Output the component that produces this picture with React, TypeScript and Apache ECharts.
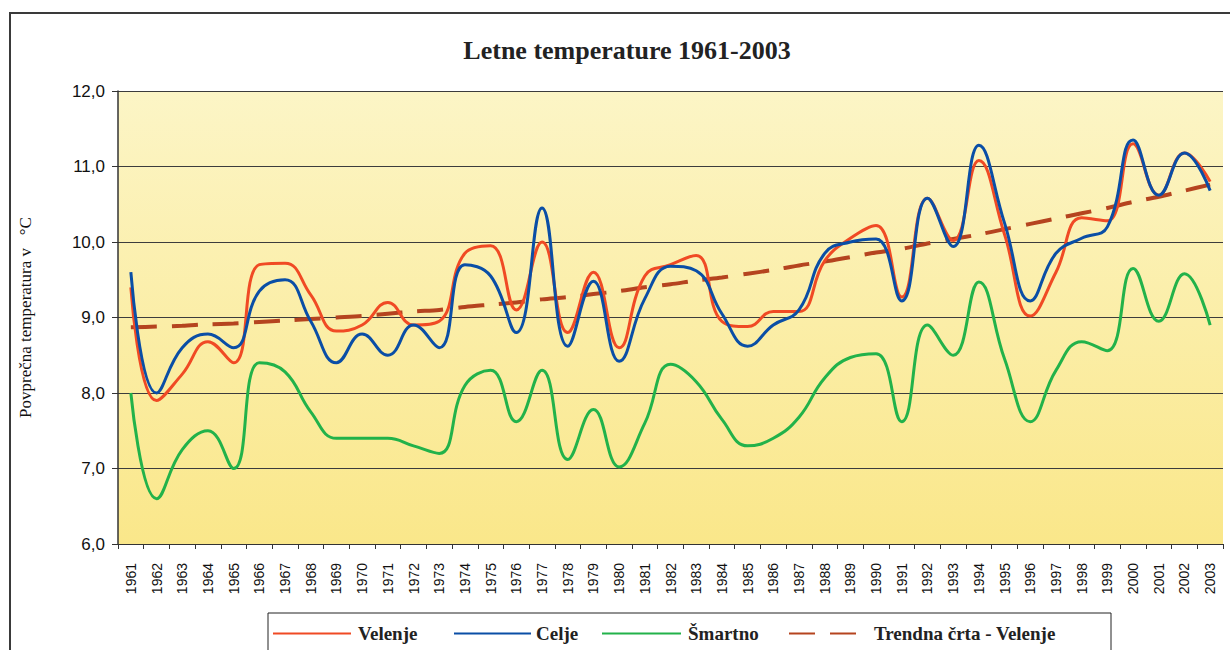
import React, { useEffect, useRef } from "react";
import * as echarts from "echarts";

const years: string[] = [
  "1961","1962","1963","1964","1965","1966","1967","1968","1969","1970",
  "1971","1972","1973","1974","1975","1976","1977","1978","1979","1980",
  "1981","1982","1983","1984","1985","1986","1987","1988","1989","1990",
  "1991","1992","1993","1994","1995","1996","1997","1998","1999","2000",
  "2001","2002","2003",
];

const velenje: number[] = [
  9.40, 7.90, 8.25, 8.68, 8.40, 9.70, 9.72, 9.30, 8.82, 8.90,
  9.20, 8.90, 8.95, 9.85, 9.95, 9.10, 10.00, 8.80, 9.60, 8.60,
  9.55, 9.70, 9.82, 8.95, 8.88, 9.08, 9.08, 9.75, 10.05, 10.22,
  9.27, 10.58, 10.02, 11.08, 10.10, 9.02, 9.60, 10.32, 10.28, 11.30,
  10.62, 11.18, 10.80,
];

const celje: number[] = [
  9.60, 8.00, 8.60, 8.78, 8.60, 9.35, 9.50, 8.95, 8.40, 8.78,
  8.50, 8.90, 8.60, 9.70, 9.55, 8.80, 10.45, 8.62, 9.48, 8.42,
  9.25, 9.68, 9.62, 9.05, 8.62, 8.90, 9.10, 9.85, 10.00, 10.04,
  9.22, 10.58, 9.94, 11.28, 10.25, 9.22, 9.85, 10.05, 10.20, 11.35,
  10.62, 11.18, 10.68,
];

const smartno: number[] = [
  8.00, 6.60, 7.25, 7.50, 7.00, 8.40, 8.28, 7.75, 7.40, 7.40,
  7.40, 7.30, 7.20, 8.10, 8.30, 7.62, 8.30, 7.12, 7.78, 7.02,
  7.60, 8.38, 8.15, 7.65, 7.30, 7.40, 7.68, 8.20, 8.47, 8.52,
  7.62, 8.90, 8.50, 9.47, 8.45, 7.62, 8.30, 8.68, 8.56, 9.65,
  8.95, 9.58, 8.90,
];

const trendVelenje: number[] = [
  8.87, 8.88, 8.89, 8.91, 8.92, 8.94, 8.96, 8.98, 9.00, 9.02,
  9.05, 9.08, 9.10, 9.14, 9.17, 9.20, 9.24, 9.27, 9.31, 9.35,
  9.40, 9.44, 9.49, 9.53, 9.58, 9.63, 9.69, 9.74, 9.80, 9.86,
  9.91, 9.98, 10.04, 10.10, 10.17, 10.24, 10.31, 10.38, 10.45, 10.53,
  10.60, 10.68, 10.76,
];

const seriesNames: string[] = ["Velenje", "Celje", "Šmartno", "Trendna črta - Velenje"];

const yTicks: number[] = [6, 7, 8, 9, 10, 11, 12];

export default function App() {
  const ref = useRef<HTMLDivElement>(null);

  useEffect(() => {
    if (!ref.current) return;
    const chart = echarts.init(ref.current, null, { renderer: "svg" });
    const serif = "'Liberation Serif', 'Times New Roman', serif";
    const sans = "'Liberation Sans', Arial, sans-serif";
    const lineSeries = (name: string, data: number[], color: string) => ({
      name,
      type: "line",
      data,
      smooth: 0.45,
      symbol: "none",
      showSymbol: false,
      lineStyle: { color, width: 3 },
      itemStyle: { color },
    });
    const legendItem = (name: string, left: number, itemWidth: number, padLeft: number) => ({
      left,
      top: 624,
      padding: 0,
      itemWidth,
      itemHeight: 14,
      itemGap: 0,
      itemStyle: { opacity: 0 },
      textStyle: {
        fontFamily: serif,
        fontWeight: "bold",
        fontSize: 19,
        color: "#222222",
        padding: [0, 0, 0, padLeft],
      },
      data: [name],
    });
    chart.setOption({
      animation: false,
      backgroundColor: "#ffffff",
      graphic: [
        {
          type: "rect",
          shape: { x: 10, y: 13, width: 1240, height: 700 },
          style: { fill: "none", stroke: "#3a3a3a", lineWidth: 2 },
          silent: true,
          z: 0,
        },
        {
          type: "rect",
          shape: { x: 268, y: 613, width: 843, height: 60 },
          style: { fill: "#ffffff", stroke: "#222222", lineWidth: 1 },
          silent: true,
          z: 1,
        },
        {
          type: "text",
          x: 627,
          y: 50,
          style: {
            text: "Letne temperature 1961-2003",
            font: `bold 26px ${serif}`,
            fill: "#222222",
            textAlign: "center",
            textVerticalAlign: "middle",
          },
        },
      ],
      grid: {
        left: 118,
        right: 7,
        top: 91,
        bottom: 106,
        show: true,
        borderWidth: 0,
        backgroundColor: new echarts.graphic.LinearGradient(0, 0, 0, 1, [
          { offset: 0, color: "#FCF5C6" },
          { offset: 1, color: "#FAE78A" },
        ]),
      },
      legend: [
        legendItem(seriesNames[0], 272, 78, 2),
        legendItem(seriesNames[1], 453, 77, 0),
        legendItem(seriesNames[2], 601, 79, 2),
        legendItem(seriesNames[3], 788, 67, 13),
      ],
      xAxis: {
        type: "category",
        data: years,
        boundaryGap: true,
        axisLine: { show: true, lineStyle: { color: "#333333", width: 1 } },
        axisTick: { show: true, interval: 0, length: 5, lineStyle: { color: "#333333" } },
        axisLabel: {
          interval: 0,
          rotate: 90,
          fontFamily: sans,
          fontSize: 14,
          color: "#111111",
          margin: 19,
        },
        splitLine: { show: false },
      },
      yAxis: {
        type: "value",
        min: yTicks[0],
        max: yTicks[yTicks.length - 1],
        interval: 1,
        name: "Povprečna temperatura v   °C",
        nameLocation: "middle",
        nameRotate: 90,
        nameGap: 84,
        nameTextStyle: { fontFamily: serif, fontSize: 17, color: "#111111" },
        axisLine: { show: true, lineStyle: { color: "#333333", width: 1.5 } },
        axisTick: { show: true, length: 6, lineStyle: { color: "#333333" } },
        axisLabel: {
          fontFamily: sans,
          fontSize: 17,
          color: "#111111",
          margin: 13,
          formatter: (v: number) => v.toFixed(1).replace(".", ","),
        },
        splitLine: { show: true, lineStyle: { color: "#3c3c3c", width: 1 } },
      },
      series: [
        lineSeries(seriesNames[0], velenje, "#F04A24"),
        lineSeries(seriesNames[1], celje, "#0A4EA6"),
        lineSeries(seriesNames[2], smartno, "#22B24A"),
        {
          name: seriesNames[3],
          type: "line",
          data: trendVelenje,
          smooth: 0.3,
          symbol: "none",
          showSymbol: false,
          z: 1,
          lineStyle: { color: "#B5441F", width: 4, type: [26, 15] },
          itemStyle: { color: "#B5441F" },
        },
      ],
    });
    return () => chart.dispose();
  }, []);

  return (
    <div
      ref={ref}
      style={{ position: "absolute", left: 0, top: 0, width: 1230, height: 650 }}
    />
  );
}
